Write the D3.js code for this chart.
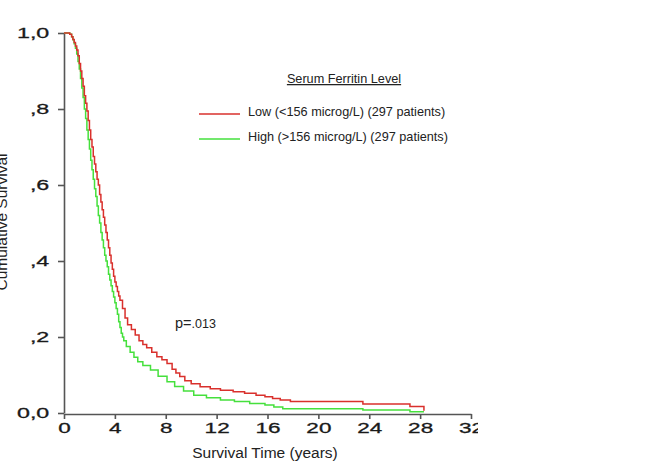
<!DOCTYPE html>
<html>
<head>
<meta charset="utf-8">
<script src="https://cdn.jsdelivr.net/npm/d3@7"></script>
<style>
  body { margin: 0; background: #fff; }
  text { font-family: "Liberation Sans", Arial, sans-serif; fill: #222; }
  .axis path, .axis line { stroke: #555; stroke-width: 1.6; }
</style>
</head>
<body>
<div class="charts"></div>
<script>
/////////////
// Data
/////////////

// Low ferritin group (red), survival time in years vs cumulative survival
var lowTime = [0, 0.3, 0.45, 0.6, 0.7, 0.8, 0.9, 1.0, 1.1, 1.2, 1.3, 1.4, 1.5, 1.6, 1.7, 1.8, 1.9, 2.0, 2.1, 2.2,
  2.3, 2.4, 2.5, 2.6, 2.7, 2.8, 2.9, 3.0, 3.1, 3.2, 3.3, 3.4, 3.5, 3.6, 3.7, 3.8, 3.9, 4.0, 4.1, 4.2,
  4.3, 4.4, 4.6, 4.8, 5.0, 5.3, 5.6, 5.9, 6.2, 6.5, 6.9, 7.3, 7.7, 8.1, 8.5, 8.8, 9.1, 9.5, 10.0, 10.7,
  11.5, 12.3, 13.3, 14.2, 15.1, 15.8, 16.4, 17.0, 17.8, 23.5, 27.2, 28.3]
var lowSurv = [1.0, 1.0, 0.997, 0.99, 0.983, 0.975, 0.966, 0.955, 0.94, 0.92, 0.90, 0.88, 0.86, 0.835, 0.815, 0.795, 0.77, 0.745, 0.72, 0.70,
  0.675, 0.655, 0.635, 0.615, 0.60, 0.575, 0.555, 0.535, 0.515, 0.495, 0.475, 0.455, 0.435, 0.415, 0.395, 0.378, 0.36, 0.345, 0.333, 0.32,
  0.308, 0.297, 0.275, 0.25, 0.232, 0.22, 0.205, 0.19, 0.18, 0.172, 0.16, 0.148, 0.14, 0.13, 0.115, 0.105, 0.096, 0.085, 0.077, 0.069,
  0.064, 0.06, 0.056, 0.052, 0.047, 0.043, 0.038, 0.034, 0.030, 0.024, 0.017, 0.006]

// High ferritin group (green)
var highTime = [0, 0.3, 0.45, 0.6, 0.7, 0.8, 0.9, 1.0, 1.1, 1.2, 1.3, 1.4, 1.5, 1.6, 1.7, 1.8, 1.9, 2.0, 2.1, 2.2,
  2.3, 2.4, 2.5, 2.6, 2.7, 2.8, 2.9, 3.0, 3.1, 3.2, 3.3, 3.4, 3.5, 3.6, 3.7, 3.8, 3.9, 4.0, 4.1, 4.2,
  4.3, 4.4, 4.5, 4.6, 4.7, 4.9, 5.2, 5.5, 5.8, 6.2, 6.8, 7.4, 8.1, 8.7, 9.4, 10.2, 11.2, 12.3, 13.4, 14.6,
  15.8, 16.5, 17.2, 23.5, 27.2, 28.3]
var highSurv = [1.0, 1.0, 0.997, 0.99, 0.982, 0.972, 0.96, 0.945, 0.925, 0.905, 0.88, 0.855, 0.83, 0.80, 0.775, 0.745, 0.72, 0.695, 0.665, 0.64,
  0.615, 0.59, 0.57, 0.545, 0.52, 0.50, 0.475, 0.455, 0.435, 0.415, 0.40, 0.385, 0.365, 0.35, 0.335, 0.32, 0.305, 0.29, 0.275, 0.26,
  0.24, 0.225, 0.21, 0.20, 0.19, 0.175, 0.16, 0.147, 0.135, 0.125, 0.113, 0.097, 0.082, 0.07, 0.058, 0.047, 0.04, 0.034, 0.03, 0.025,
  0.021, 0.016, 0.0115, 0.008, 0.0035, 0.0035]

var xTicks = [0, 4, 8, 12, 16, 20, 24, 28, 32]
var yTicks = [0, 0.2, 0.4, 0.6, 0.8, 1.0]
var yTickLabels = ['0,0', ',2', ',4', ',6', ',8', '1,0']

var seriesNames = ['Low (<156 microg/L) (297 patients)', 'High (>156 microg/L) (297 patients)']
var seriesColors = ['#d9302c', '#45e03c']

////////////////
// Chart
////////////////

var w = 657, h = 470

var svg = d3.select('div.charts')
  .append('svg')
  .attr('width', w)
  .attr('height', h)

// the right edge of the original scan is cut just after the "32" tick
svg.append('defs').append('clipPath').attr('id', 'cut')
  .append('rect').attr('x', 0).attr('y', 0).attr('width', 478).attr('height', h)

var g = svg.append('g').attr('clip-path', 'url(#cut)')

var x = d3.scaleLinear().domain([0, 32]).range([64, 471])
var y = d3.scaleLinear().domain([0, 1]).range([413, 33])

// axes
var xAxis = g.append('g')
  .attr('class', 'axis')
  .attr('transform', 'translate(0,414)')
  .call(d3.axisBottom(x).tickValues(xTicks).tickSize(5).tickSizeOuter(0))

xAxis.selectAll('text')
  .attr('font-size', '15px')
  .attr('transform', 'scale(1.5,1)')
  .attr('x', 0)
  .attr('y', 8)

var yAxis = g.append('g')
  .attr('class', 'axis')
  .attr('transform', 'translate(64,0)')
  .call(d3.axisLeft(y).tickValues(yTicks).tickSize(6).tickSizeOuter(0)
    .tickFormat(function(d, i) { return yTickLabels[i] }))

yAxis.selectAll('text')
  .attr('font-size', '15px')
  .attr('x', -9.5)
  .attr('transform', 'scale(1.55,1)')

g.selectAll('.axis text')
  .style('fill', '#1a1a1a')
  .style('stroke', '#1a1a1a')
  .style('stroke-width', 0.3)
  .attr('font-family', '"Liberation Sans", Arial, sans-serif')

// survival curves
var line = d3.line()
  .curve(d3.curveStepAfter)
  .x(function(d) { return x(d[0]) })
  .y(function(d) { return y(d[1]) })

var curves = [d3.zip(lowTime, lowSurv), d3.zip(highTime, highSurv)]

g.selectAll('path.surv')
  .data(curves.slice().reverse())
  .enter()
  .append('path')
  .attr('class', 'surv')
  .attr('d', line)
  .attr('fill', 'none')
  .attr('stroke', function(d, i) { return seriesColors[1 - i] })
  .attr('stroke-width', 1.5)

// axis titles
g.append('text')
  .attr('x', 265).attr('y', 458)
  .attr('text-anchor', 'middle')
  .attr('font-size', '15.5px')
  .text('Survival Time (years)')

g.append('text')
  .attr('transform', 'translate(7,222) rotate(-90)')
  .attr('text-anchor', 'middle')
  .attr('font-size', '15.5px')
  .text('Cumulative Survival')

// legend
g.append('text')
  .attr('x', 344).attr('y', 83)
  .attr('text-anchor', 'middle')
  .attr('font-size', '12.7px')
  .attr('text-decoration', 'underline')
  .text('Serum Ferritin Level')

var leg = g.selectAll('g.leg')
  .data(seriesNames)
  .enter()
  .append('g')
  .attr('class', 'leg')
  .attr('transform', function(d, i) { return 'translate(199,' + (114 + i * 25) + ')' })

leg.append('line')
  .attr('x1', 0).attr('x2', 41).attr('y1', 0).attr('y2', 0)
  .attr('stroke', function(d, i) { return seriesColors[i] })
  .attr('stroke-width', 1.3)

leg.append('text')
  .attr('x', 49).attr('y', 0)
  .attr('dy', '0.15em')
  .attr('font-size', '12.7px')
  .text(function(d) { return d })

// p value
var pv = g.append('text').attr('x', 175).attr('y', 328)
pv.append('tspan').attr('font-size', '14.5px').text('p=')
pv.append('tspan').attr('font-size', '12.5px').text('.013')
</script>
</body>
</html>
